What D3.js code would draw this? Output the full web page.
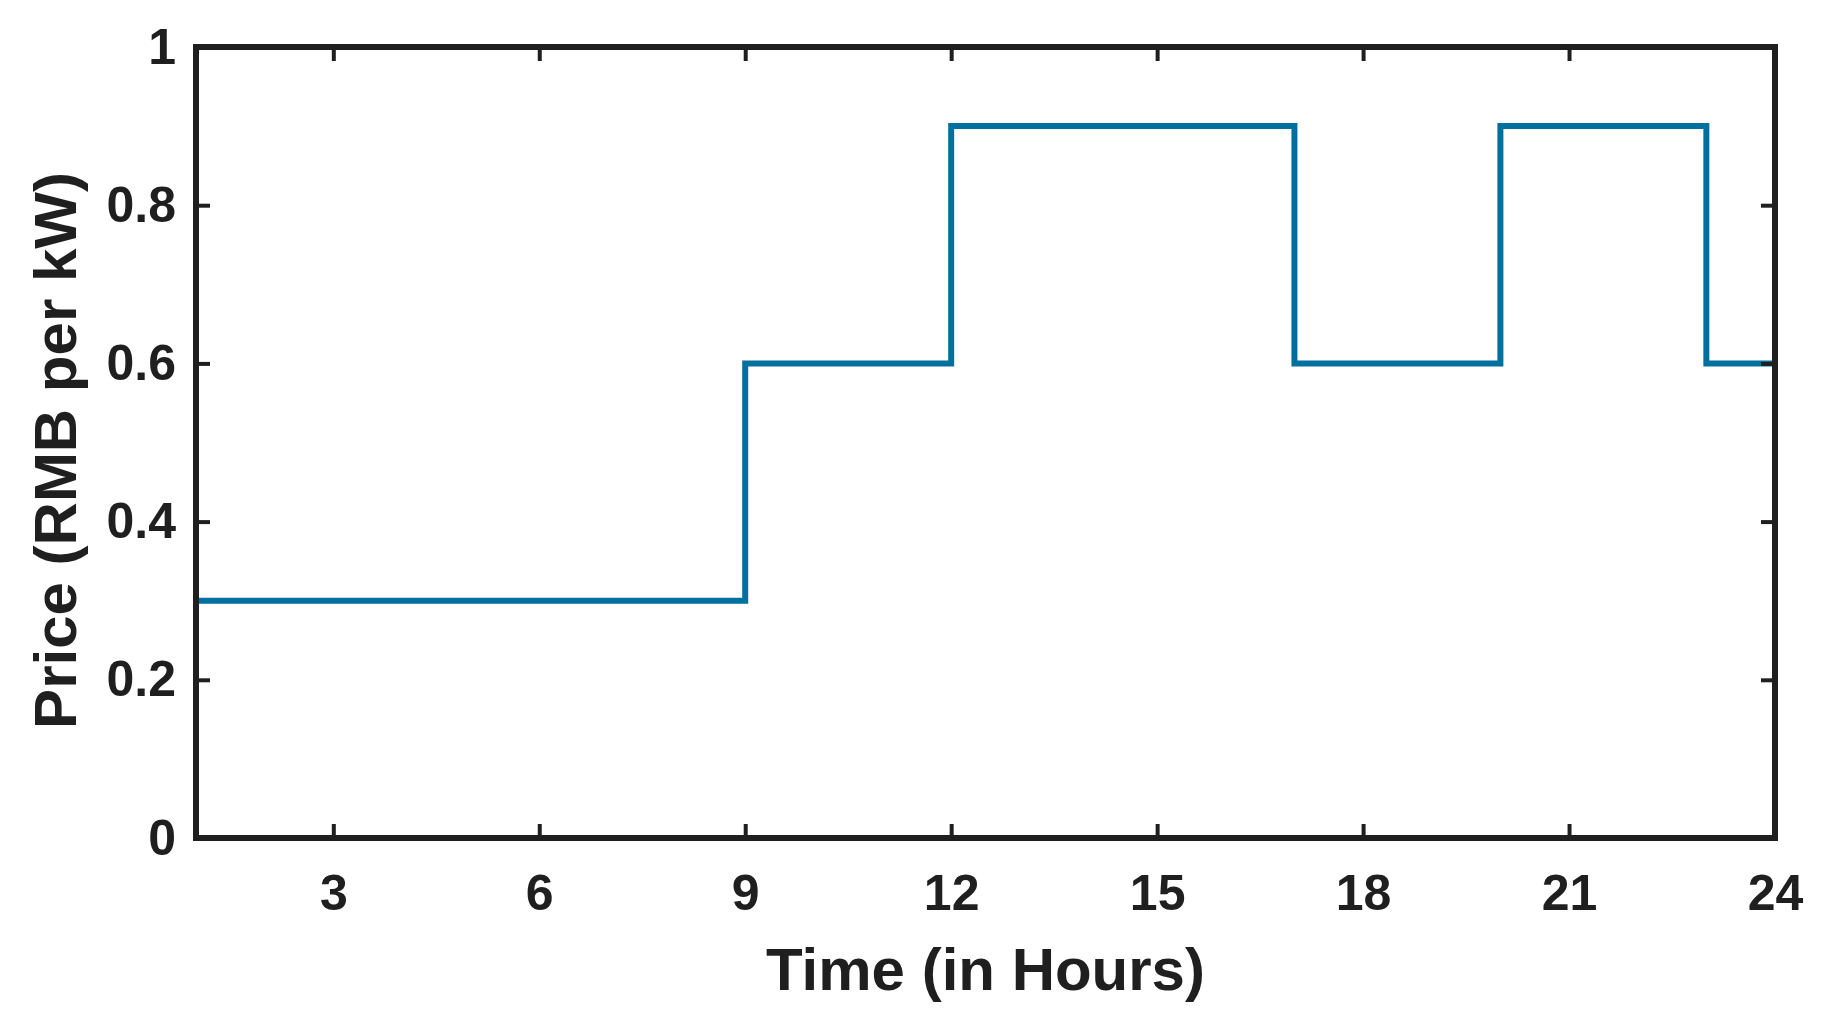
<!DOCTYPE html>
<html><head><meta charset="utf-8">
<script src="https://cdn.jsdelivr.net/npm/d3@7"></script>
<style>body{margin:0;background:#fff}svg{display:block}</style></head>
<body><svg id="c" width="1822" height="1030"></svg>
<script>
const hours = [1,2,3,4,5,6,7,8,9,10,11,12,13,14,15,16,17,18,19,20,21,22,23,24];
const prices = [0.3,0.3,0.3,0.3,0.3,0.3,0.3,0.3,0.6,0.6,0.6,0.9,0.9,0.9,0.9,0.9,0.6,0.6,0.6,0.9,0.9,0.9,0.6,0.6];
const xTicks = [3,6,9,12,15,18,21,24];
const yTicks = [0,0.2,0.4,0.6,0.8,1];
const yTickLabels = ["0","0.2","0.4","0.6","0.8","1"];

const L=196,R=1775,T=47,B=838;
const svg=d3.select("#c");
const x=d3.scaleLinear().domain([1,24]).range([L,R]);
const y=d3.scaleLinear().domain([0,1]).range([B,T]);
const font="'Liberation Sans', Arial, sans-serif";
const col="#1f1f1f";

const line=d3.line().x((d,i)=>x(hours[i])).y(d=>y(d)).curve(d3.curveStepAfter);
svg.append("path").datum(prices).attr("d",line).attr("fill","none")
  .attr("stroke","#00709f").attr("stroke-width",6);

const xa=svg.append("g").attr("transform",`translate(0,${B})`)
  .call(d3.axisBottom(x).tickValues(xTicks).tickSize(-14).tickPadding(36).tickFormat(d3.format("d")));
const xt=svg.append("g").attr("transform",`translate(0,${T})`)
  .call(d3.axisTop(x).tickValues(xTicks).tickSize(-14).tickFormat(""));
const ya=svg.append("g").attr("transform",`translate(${L},0)`)
  .call(d3.axisLeft(y).tickValues(yTicks).tickSize(-14).tickPadding(20).tickFormat((d,i)=>yTickLabels[i]));
const yr=svg.append("g").attr("transform",`translate(${R},0)`)
  .call(d3.axisRight(y).tickValues(yTicks).tickSize(-14).tickFormat(""));
[xa,xt,ya,yr].forEach(g=>{
  g.select(".domain").remove();
  g.selectAll(".tick line").attr("stroke",col).attr("stroke-width",4);
  g.selectAll("text").attr("fill",col).style("font-family",font).style("font-weight","bold").style("font-size","50px");
});
svg.append("rect").attr("x",L).attr("y",T).attr("width",R-L).attr("height",B-T)
  .attr("fill","none").attr("stroke",col).attr("stroke-width",6);

svg.append("text").attr("x",(L+R)/2).attr("y",990).attr("text-anchor","middle")
  .attr("fill",col).style("font-family",font).style("font-weight","bold").style("font-size","60px")
  .text("Time (in Hours)");
svg.append("text").attr("transform",`translate(76,${(T+B)/2+8}) rotate(-90)`).attr("text-anchor","middle")
  .attr("fill",col).style("font-family",font).style("font-weight","bold").style("font-size","60px")
  .text("Price (RMB per kW)");
</script></body></html>
